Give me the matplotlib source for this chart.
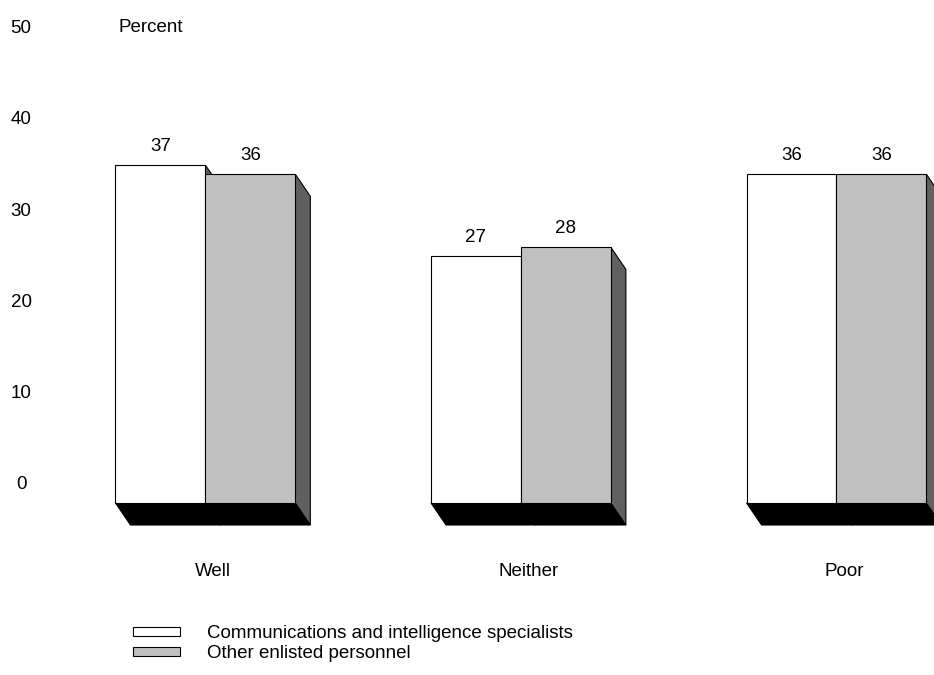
import matplotlib
matplotlib.use("Agg")
import matplotlib.pyplot as plt
import matplotlib.transforms as mtransforms
from matplotlib.patches import Polygon, Rectangle

plt.rcParams['font.family'] = ['Liberation Sans', 'DejaVu Sans']

# data
categories = ["Well", "Neither", "Poor"]
comm_intel = [37, 27, 36]
other_enlisted = [36, 28, 36]
series_names = ["Communications and intelligence specialists", "Other enlisted personnel"]
yticks = [0, 10, 20, 30, 40, 50]

face_colors = ["white", "#c0c0c0"]
side_color = "#606060"
fs = 13.5

fig = plt.figure(figsize=(9.34, 6.75), dpi=100)
ax = fig.add_axes([0, 0, 1, 1])
ax.set_xlim(-0.651, 2.309)
ax.set_ylim(-18.84, 55.09)
ax.axis("off")

w = 0.285      # bar width
dx = 0.0475    # depth offset (x)
dy = 2.41      # depth offset (y, downwards)


def bar3d(x0, h, color):
    x1 = x0 + w
    floor = Polygon([(x0, 0), (x1, 0), (x1 + dx, -dy), (x0 + dx, -dy)],
                    closed=True, facecolor="black", edgecolor="black", lw=0.8)
    side = Polygon([(x1, h), (x1 + dx, h - dy), (x1 + dx, -dy), (x1, 0)],
                   closed=True, facecolor=side_color, edgecolor="black", lw=0.8)
    front = Rectangle((x0, 0), w, h, facecolor=color, edgecolor="black", lw=0.8)
    for p in (floor, side, front):
        ax.add_patch(p)


for i, cat in enumerate(categories):
    vals = [comm_intel[i], other_enlisted[i]]
    for j, v in enumerate(vals):
        x0 = i - w + j * w
        bar3d(x0, v, face_colors[j])
        ax.text(x0 + w / 2, v + 2.05, str(v), ha="center", va="center", fontsize=fs)
    ax.text(i + dx / 2, -7.55, cat, ha="center", va="center", fontsize=fs)

# y tick labels (shifted up like the original)
ytrans = mtransforms.offset_copy(ax.get_yaxis_transform(), fig=fig, y=18, units="dots")
for v in yticks:
    ax.text(0.0225, v, str(v), ha="center", va="center", fontsize=fs, transform=ytrans)
fig.text(118 / 934, 1 - 28 / 675, "Percent", ha="left", va="center", fontsize=fs)

# legend
leg_y = [631, 651]
for k, name in enumerate(series_names):
    yb = 1 - (leg_y[k] + 4.5) / 675
    fig.patches.append(Rectangle((133 / 934, yb), 47 / 934, 9 / 675, facecolor=face_colors[k],
                                 edgecolor="black", lw=0.8, transform=fig.transFigure))
    fig.text(207 / 934, 1 - (leg_y[k] + 3) / 675, name, ha="left", va="center", fontsize=fs)

fig.savefig("out.png", dpi=100)
